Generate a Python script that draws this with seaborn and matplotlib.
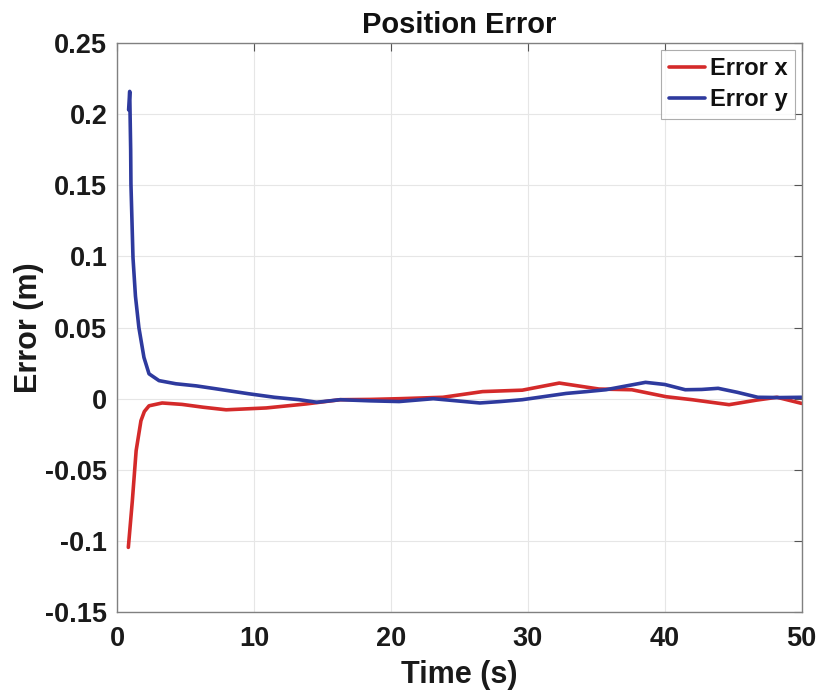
import matplotlib.pyplot as plt
import seaborn as sns
import pandas as pd

# values
t_x = [0.83, 1.12, 1.4, 1.75, 2.0, 2.34, 3.3, 4.75, 6.3, 7.97, 10.9, 13.8, 16.3, 18.5,
       20.6, 23.8, 26.7, 29.6, 32.3, 35.2, 37.6, 40.1, 42.0, 44.7, 46.7, 48.2, 50.0]
err_x = [-0.1045, -0.072, -0.0365, -0.0155, -0.009, -0.005, -0.003, -0.004, -0.006, -0.0078,
         -0.0065, -0.0037, -0.0007, -0.0005, 0.0, 0.001, 0.005, 0.006, 0.011, 0.0068, 0.0063,
         0.0014, -0.0007, -0.0042, -0.001, 0.001, -0.0033]

t_y = [0.85, 0.93, 1.0, 1.02, 1.17, 1.35, 1.6, 1.97, 2.34, 3.07, 4.3, 5.8, 7.2, 9.6, 11.5,
       13.3, 14.6, 16.3, 18.5, 20.6, 23.1, 24.8, 26.5, 28.0, 29.6, 31.2, 32.8, 34.3, 35.7,
       37.2, 38.6, 40.0, 41.5, 42.7, 43.9, 45.3, 46.8, 48.4, 50.0]
err_y = [0.203, 0.216, 0.175, 0.151, 0.099, 0.072, 0.05, 0.029, 0.0175, 0.0127, 0.0105, 0.009,
         0.007, 0.0035, 0.001, -0.0007, -0.0025, -0.0007, -0.0015, -0.002, 0.0, -0.0015, -0.003,
         -0.002, -0.0007, 0.0015, 0.0037, 0.005, 0.0063, 0.009, 0.0115, 0.01, 0.0063, 0.0065,
         0.0073, 0.0045, 0.001, 0.0008, 0.001]

xticks = [0, 10, 20, 30, 40, 50]
yticks = [-0.15, -0.1, -0.05, 0, 0.05, 0.1, 0.15, 0.2, 0.25]
ytick_labels = ['-0.15', '-0.1', '-0.05', '0', '0.05', '0.1', '0.15', '0.2', '0.25']

sns.set_style('white')
plt.rcParams['font.family'] = ['Liberation Sans', 'DejaVu Sans']
plt.rcParams['font.weight'] = 'bold'

df_x = pd.DataFrame({'t': t_x, 'e': err_x})
df_y = pd.DataFrame({'t': t_y, 'e': err_y})

fig = plt.figure(figsize=(8.18, 6.94), dpi=100)
ax = fig.add_axes([0.143, 0.118, 0.837, 0.820])

sns.lineplot(data=df_x, x='t', y='e', ax=ax, color='#d42a2a', linewidth=2.6,
             label='Error x', estimator=None, sort=False)
sns.lineplot(data=df_y, x='t', y='e', ax=ax, color='#2e3a9e', linewidth=2.6,
             label='Error y', estimator=None, sort=False)

ax.set_xlim(0, 50)
ax.set_ylim(-0.15, 0.25)
ax.set_xticks(xticks)
ax.set_yticks(yticks)
ax.set_yticklabels(ytick_labels)
ax.grid(True, color='#e6e6e6', linewidth=0.8)
ax.tick_params(direction='in', length=6, width=0.8, color='#555555', labelsize=19.5,
               labelcolor='#1a1a1a', top=True, right=True, pad=7)
ax.tick_params(axis='x', pad=10)
for lab in ax.get_xticklabels() + ax.get_yticklabels():
    lab.set_fontweight('bold')
for s in ax.spines.values():
    s.set_color('#808080')
    s.set_linewidth(1.0)

ax.set_xlabel('Time (s)', fontsize=22, fontweight='bold', labelpad=6, color='#1a1a1a')
ax.set_ylabel('Error (m)', fontsize=22, fontweight='bold', labelpad=1, color='#1a1a1a')
ax.set_title('Position Error', fontsize=21, fontweight='bold', pad=7, color='#111111')

leg = ax.legend(loc='upper right', fontsize=17, frameon=True, fancybox=False,
                handlelength=1.55, handletextpad=0.2, borderpad=0.3, labelspacing=0.35,
                borderaxespad=0.3)
leg.get_frame().set_edgecolor('#999999')
leg.get_frame().set_linewidth(0.8)
for txt in leg.get_texts():
    txt.set_fontweight('bold')
    txt.set_color('#111111')

fig.patch.set_facecolor('white')
plt.savefig('out.png', dpi=100)
